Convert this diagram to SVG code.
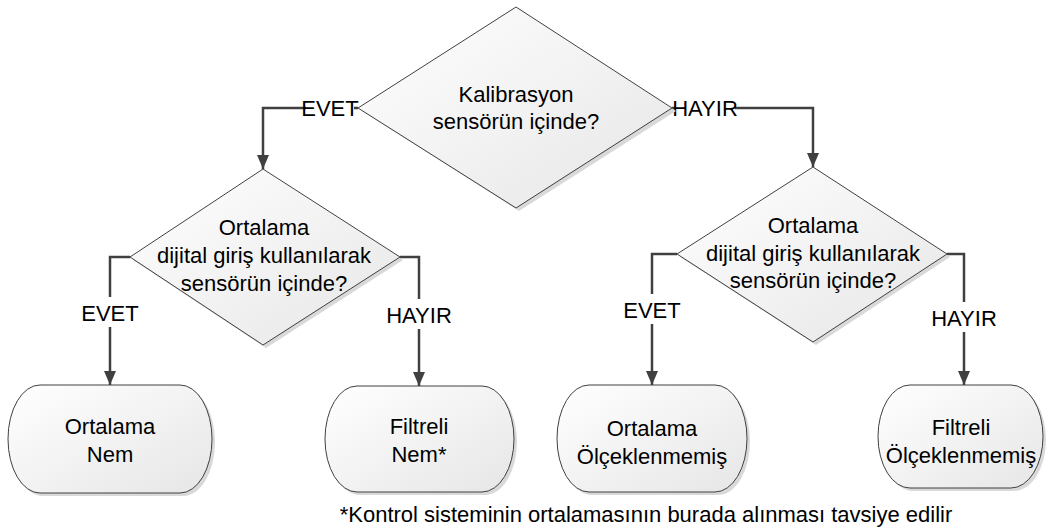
<svg xmlns="http://www.w3.org/2000/svg" width="1046" height="531" viewBox="0 0 1046 531">
<defs>
<linearGradient id="g" x1="0" y1="0" x2="1" y2="1">
<stop offset="0" stop-color="#ffffff"/>
<stop offset="1" stop-color="#e6e6e6"/>
</linearGradient>
<marker id="arr" viewBox="0 0 14 12" refX="14" refY="6" markerWidth="14" markerHeight="12" markerUnits="userSpaceOnUse" orient="auto">
<path d="M0,0 L14,6 L0,12 Z" fill="#404040"/>
</marker>
</defs>
<style>
.shape{fill:url(#g);stroke:#404040;stroke-width:1}
.shadow{fill:#d9d9d9;stroke:none}
.t{font-family:"Liberation Sans",Arial,sans-serif;font-size:22px;fill:#000;text-anchor:middle}
.c{fill:none;stroke:#404040;stroke-width:2.5}
.bg{fill:#fff}
</style>
<g id="connectors">
<path class="c" d="M358,108 H263 V169" marker-end="url(#arr)"/>
<path class="c" d="M672,108 H813 V167" marker-end="url(#arr)"/>
<path class="c" d="M130,257 H110 V385" marker-end="url(#arr)"/>
<path class="c" d="M400,257 H419 V386" marker-end="url(#arr)"/>
<path class="c" d="M677,254 H652 V385" marker-end="url(#arr)"/>
<path class="c" d="M947,254 H964 V385" marker-end="url(#arr)"/>
<rect class="bg" x="306" y="96" width="48" height="24"/>
<text class="t" x="330" y="116">EVET</text>
<rect class="bg" x="675" y="96" width="60" height="24"/>
<text class="t" x="705" y="116">HAYIR</text>
<rect class="bg" x="84" y="297" width="52" height="30"/>
<text class="t" x="110" y="321">EVET</text>
<rect class="bg" x="388" y="299" width="62" height="30"/>
<text class="t" x="419" y="323">HAYIR</text>
<rect class="bg" x="626" y="294" width="52" height="30"/>
<text class="t" x="652" y="318">EVET</text>
<rect class="bg" x="933" y="302" width="62" height="30"/>
<text class="t" x="964" y="326">HAYIR</text>
</g>
<g id="d1">
<polygon class="shadow" points="519,11 676,111 519,211 362,111"/>
<polygon class="shape" points="516,7 672,108 516,208 358,108"/>
<text class="t" x="516" y="102">Kalibrasyon</text>
<text class="t" x="516" y="129">sensörün içinde?</text>
</g>
<g id="d2">
<polygon class="shadow" points="266,172 403,260 266,348 133,260"/>
<polygon class="shape" points="263,169 400,257 263,345 130,257"/>
<text class="t" x="264" y="235">Ortalama</text>
<text class="t" x="264" y="263">dijital giriş kullanılarak</text>
<text class="t" x="264" y="291">sensörün içinde?</text>
</g>
<g id="d3">
<polygon class="shadow" points="816,170 950,257 816,345 680,257"/>
<polygon class="shape" points="813,167 947,254 813,342 677,254"/>
<text class="t" x="813" y="233">Ortalama</text>
<text class="t" x="813" y="261">dijital giriş kullanılarak</text>
<text class="t" x="813" y="288">sensörün içinde?</text>
</g>
<g id="t1">
<path class="shadow" d="M43,388 H183 A32,54 0 0 1 183,496 H43 A32,54 0 0 1 43,388 Z"/>
<path class="shape" d="M40,385 H180 A32,54 0 0 1 180,493 H40 A32,54 0 0 1 40,385 Z"/>
<text class="t" x="110" y="434">Ortalama</text>
<text class="t" x="110" y="462">Nem</text>
</g>
<g id="t2">
<path class="shadow" d="M360,389 H485 A32,53 0 0 1 485,495 H360 A32,53 0 0 1 360,389 Z"/>
<path class="shape" d="M357,386 H482 A32,53 0 0 1 482,492 H357 A32,53 0 0 1 357,386 Z"/>
<text class="t" x="419" y="434">Filtreli</text>
<text class="t" x="419" y="462">Nem*</text>
</g>
<g id="t3">
<path class="shadow" d="M592,388 H718 A32,53.5 0 0 1 718,495 H592 A32,53.5 0 0 1 592,388 Z"/>
<path class="shape" d="M589,385 H715 A32,53.5 0 0 1 715,492 H589 A32,53.5 0 0 1 589,385 Z"/>
<text class="t" x="652" y="436">Ortalama</text>
<text class="t" x="652" y="464">Ölçeklenmemiş</text>
</g>
<g id="t4">
<path class="shadow" d="M913,388 H1014 A32,51.5 0 0 1 1014,491 H913 A32,51.5 0 0 1 913,388 Z"/>
<path class="shape" d="M910,385 H1011 A32,51.5 0 0 1 1011,488 H910 A32,51.5 0 0 1 910,385 Z"/>
<text class="t" x="961" y="435">Filtreli</text>
<text class="t" x="961" y="463">Ölçeklenmemiş</text>
</g>
<text class="t" x="646" y="522">*Kontrol sisteminin ortalamasının burada alınması tavsiye edilir</text>
</svg>
